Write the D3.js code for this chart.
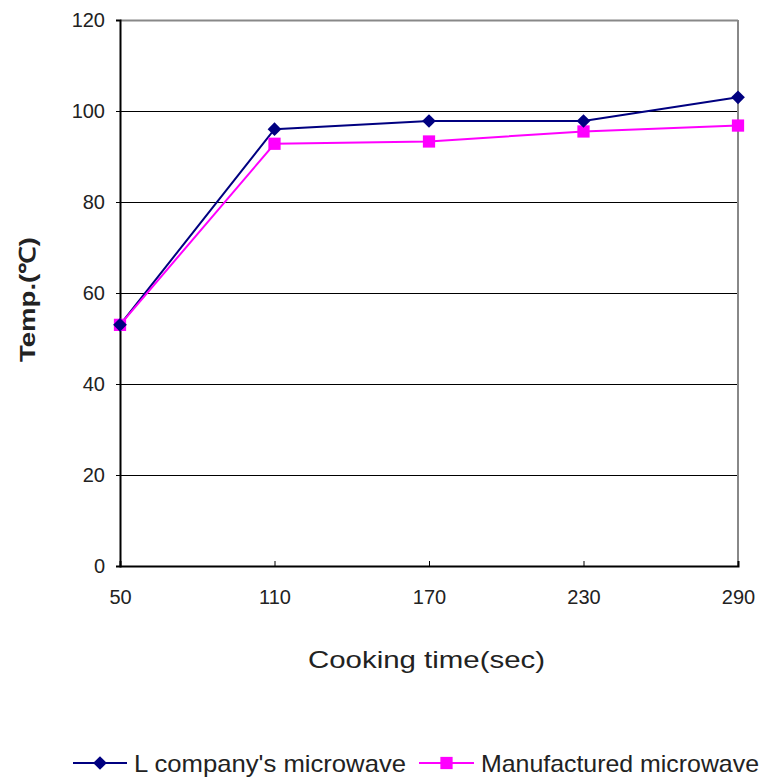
<!DOCTYPE html>
<html lang="en">
<head>
<meta charset="UTF-8">
<script src="https://cdn.jsdelivr.net/npm/d3@7"></script>
<title>Cooking time</title>
<style>
    body { margin: 0; background: #fff; }
    text { font-family: "Liberation Sans", Arial, sans-serif; fill: #222; }
</style>
</head>
<body>
<div id="chart"></div>
<script>
    // data
    var times = [50, 110, 170, 230, 290];
    var lCompany = [53, 96, 97.8, 97.8, 103];
    var manufactured = [53, 92.8, 93.3, 95.5, 96.8];
    var yTicks = [0, 20, 40, 60, 80, 100, 120];
    var seriesNames = ["L company's microwave", "Manufactured microwave"];
    var colors = ["#000080", "#ff00ff"];

    var width = 762, height = 778;
    var plotLeft = 120, plotTop = 20, plotRight = 738, plotBottom = 566;

    var svg = d3.select("#chart").append("svg")
        .attr("width", width)
        .attr("height", height);

    var x = d3.scaleLinear().domain([50, 290]).range([plotLeft, plotRight]);
    var y = d3.scaleLinear().domain([0, 120]).range([plotBottom, plotTop]);

    // gridlines
    svg.append("g").selectAll("line")
        .data(yTicks.filter(function (d) { return d > 0; }))
        .enter().append("line")
        .attr("x1", plotLeft).attr("x2", plotRight)
        .attr("y1", function (d) { return Math.round(y(d)) + 0.5; })
        .attr("y2", function (d) { return Math.round(y(d)) + 0.5; })
        .attr("stroke", function (d) { return d === 120 ? "#888" : "#000"; })
        .attr("stroke-width", function (d) { return d === 120 ? 2 : 1; });

    // right border
    svg.append("line")
        .attr("x1", plotRight).attr("x2", plotRight)
        .attr("y1", plotTop).attr("y2", plotBottom)
        .attr("stroke", "#888").attr("stroke-width", 2);

    // y axis
    var yAxis = d3.axisLeft(y).tickValues(yTicks).tickSize(4).tickPadding(11);
    var gy = svg.append("g")
        .attr("transform", "translate(" + plotLeft + ",0)")
        .call(yAxis);
    gy.select(".domain").attr("stroke", "#000").attr("stroke-width", 2);
    gy.selectAll(".tick line").attr("stroke", "#000");
    gy.selectAll(".tick text").style("font-size", "20px").attr("fill", "#222");

    // x axis (ticks point inward)
    var xAxis = d3.axisBottom(x).tickValues(times).tickSize(-5).tickPadding(24);
    var gx = svg.append("g")
        .attr("transform", "translate(0," + plotBottom + ")")
        .call(xAxis);
    gx.select(".domain").attr("stroke", "#000").attr("stroke-width", 2);
    gx.selectAll(".tick line").attr("stroke", "#000");
    gx.selectAll(".tick text").style("font-size", "20px").attr("fill", "#222");

    // axis titles
    svg.append("text")
        .attr("x", 308).attr("y", 668)
        .style("font-size", "24px")
        .attr("textLength", 237)
        .attr("lengthAdjust", "spacingAndGlyphs")
        .text("Cooking time(sec)");

    svg.append("text")
        .attr("transform", "translate(35,362) rotate(-90)")
        .style("font-size", "22px")
        .style("font-weight", "bold")
        .attr("textLength", 125)
        .attr("lengthAdjust", "spacingAndGlyphs")
        .text("Temp.(℃)");

    var line = d3.line()
        .x(function (d, i) { return x(times[i]); })
        .y(function (d) { return y(d); });

    var series = [lCompany, manufactured];
    var diamond = d3.symbol().type(d3.symbolDiamond2).size(120);
    var square = d3.symbol().type(d3.symbolSquare).size(150);

    series.forEach(function (vals, k) {
        svg.append("path")
            .datum(vals)
            .attr("d", line)
            .attr("fill", "none")
            .attr("stroke", colors[k])
            .attr("stroke-width", 2);
    });

    [1, 0].forEach(function (k) {
        svg.append("g").selectAll("path")
            .data(series[k])
            .enter().append("path")
            .attr("transform", function (d, i) { return "translate(" + x(times[i]) + "," + y(d) + ")"; })
            .attr("d", k === 0 ? diamond : square)
            .attr("fill", colors[k]);
    });

    // legend
    var legendX = [73, 419];
    var legendW = [54, 55];
    var legendLen = [272, 278];
    var legendY = 763;
    seriesNames.forEach(function (name, k) {
        var g = svg.append("g");
        g.append("line")
            .attr("x1", legendX[k]).attr("x2", legendX[k] + legendW[k])
            .attr("y1", legendY).attr("y2", legendY)
            .attr("stroke", colors[k]).attr("stroke-width", 2);
        g.append("path")
            .attr("transform", "translate(" + (legendX[k] + legendW[k] / 2) + "," + legendY + ")")
            .attr("d", k === 0 ? diamond : square)
            .attr("fill", colors[k]);
        g.append("text")
            .attr("x", legendX[k] + legendW[k] + 7)
            .attr("y", legendY + 9)
            .style("font-size", "24px")
            .attr("textLength", legendLen[k])
            .attr("lengthAdjust", "spacingAndGlyphs")
            .text(name);
    });
</script>
</body>
</html>
